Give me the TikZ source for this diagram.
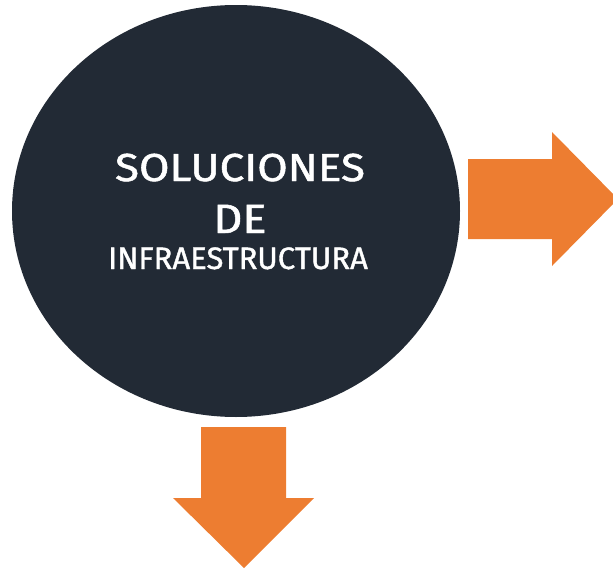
\documentclass[tikz,border=0pt]{standalone}
\usepackage{fontspec}
\setmainfont{Fira Sans}
\newfontfamily\titulofont[FakeBold=1.2]{Fira Sans}
\usetikzlibrary{positioning}

\definecolor{navy}{HTML}{222A35}
\definecolor{naranja}{HTML}{ED7D31}

\begin{document}
\begin{tikzpicture}[
        x = 1pt, y = -1pt, % pixel like coordinates
        every node/.style = {inner sep = 0pt, outer sep = 0pt},
        flecha/.style = {fill = naranja}
        ]

        \tikzset{titulo/.style = {text = white, font = \titulofont\fontsize{39}{39}\selectfont, anchor = base}}

        \useasboundingbox (0,0) rectangle (613,570);

        % circle
        \fill[navy] (236,211) ellipse [x radius = 224, y radius = 206];
        \node[titulo, xscale = 1.13] (sol) at (240,181) {SOLUCIONES};
        \node[titulo, xscale = 1.1, font = \titulofont\fontsize{41}{41}\selectfont] (de) at (240,233) {DE};
        \node[titulo, font = \titulofont\fontsize{31}{31}\selectfont] (infra) at (238,269) {INFRAESTRUCTURA};

        % arrows
        \begin{scope}
        \clip (0,0) rectangle (613,570);
        \fill[flecha] (468,159) -- (552,159) -- (552,132) -- (618,199)
            -- (552,266) -- (552,239) -- (468,239) -- cycle;
        \end{scope}
        \fill[flecha] (201,427) -- (286,427) -- (286,498) -- (314,498)
            -- (244,568) -- (173,498) -- (201,498) -- cycle;

      \end{tikzpicture}
\end{document}
